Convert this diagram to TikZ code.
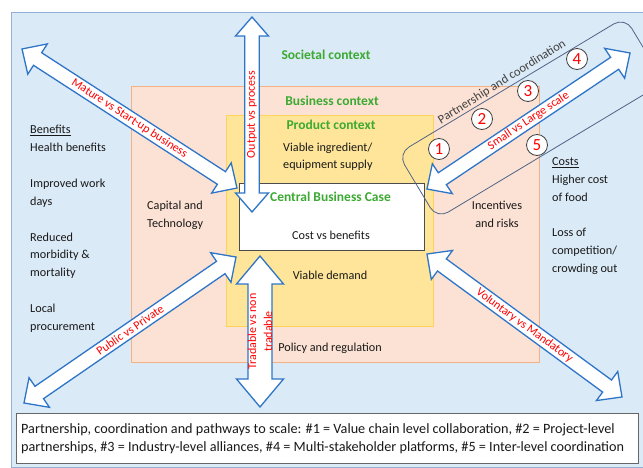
\documentclass[tikz,border=0pt]{standalone}
\usepackage{fontspec}
\setmainfont{Carlito}
\usetikzlibrary{calc}
\definecolor{bgblue}{RGB}{219,234,247}
\definecolor{bgborder}{RGB}{150,175,215}
\definecolor{peach}{RGB}{252,226,212}
\definecolor{peachborder}{RGB}{244,177,131}
\definecolor{yell}{RGB}{255,229,153}
\definecolor{yellborder}{RGB}{255,210,90}
\definecolor{arrblue}{RGB}{46,117,200}
\definecolor{ctxgreen}{RGB}{60,170,50}
\definecolor{rectcol}{RGB}{80,100,135}
\definecolor{txtcol}{RGB}{25,25,25}
\tikzset{
  txt/.style={font=\fontsize{12.2}{15}\selectfont, inner sep=0pt, text=txtcol, anchor=base},
  txtw/.style={txt, anchor=base west},
  ctx/.style={font=\fontsize{13.5}{16}\selectfont\bfseries, text=ctxgreen, inner sep=0pt, anchor=base},
  blockarr/.style={draw=arrblue, fill=white, line width=1.3pt, line join=miter},
  arrlabel/.style={font=\fontsize{12}{15}\selectfont, text=red, inner sep=0pt, transform shape},
  numcirc/.style={circle, draw=black!75, fill=white, minimum size=21pt, inner sep=0pt,
    font=\fontsize{17}{17}\selectfont, text=red, line width=0.8pt},
}
% #1 name, #2 centre, #3 angle, #4 half length, #5 shaft half width, #6 head half width, #7 head length, #8 label
\newcommand{\dblarr}[8]{%
  \begin{scope}[shift={#2}, rotate=#3]
    \draw[blockarr] (-#4,0) -- (-#4+#7,#6) -- (-#4+#7,#5) -- (#4-#7,#5) -- (#4-#7,#6) -- (#4,0)
      -- (#4-#7,-#6) -- (#4-#7,-#5) -- (-#4+#7,-#5) -- (-#4+#7,-#6) -- cycle;
    \node[arrlabel] (#1) at (0,0) {#8};
  \end{scope}}
\begin{document}
\begin{tikzpicture}[x=1pt,y=-1pt]
\useasboundingbox (0,0) rectangle (643,468);
\clip (0,0) rectangle (643,468);
\fill[white] (0,0) rectangle (643,468);
% context boxes
\draw[fill=bgblue, draw=bgborder, line width=0.8pt] (11,12) rectangle (660,467);
\draw[fill=peach, draw=peachborder, line width=0.8pt] (131,86) rectangle (539,362);
\draw[fill=yell, draw=yellborder, line width=0.8pt] (226,115) rectangle (433,326);
\draw[fill=white, draw=black!70, line width=0.9pt] (239,183) rectangle (424,250);
% context labels
\node[ctx] (soc) at (326,60) {Societal context};
\node[ctx] (bus) at (332,106) {Business context};
\node[ctx] (prod) at (331,130) {Product context};
\node[ctx] (cbc) at (330.5,201) {Central Business Case};
\node[txtw] (sup1) at (283,151.5) {Viable ingredient/};
\node[txtw] (sup2) at (283,168.5) {equipment supply};
\node[txt] (cvb) at (331,239.5) {Cost vs benefits};
\node[txt] (vd) at (330,279.5) {Viable demand};
\node[txt] (pr) at (330,351.5) {Policy and regulation};
\node[txtw] (cap1) at (147,209.5) {Capital and};
\node[txtw] (cap2) at (147,227.5) {Technology};
\node[txt] (inc1) at (497,209.5) {Incentives};
\node[txt] (inc2) at (497,227.5) {and risks};
% benefits
\node[txtw] (ben0) at (30,133.5) {\underline{Benefits}};
\node[txtw] (ben1) at (30,151.5) {Health benefits};
\node[txtw] (ben2) at (30,187.5) {Improved work};
\node[txtw] (ben3) at (30,205) {days};
\node[txtw] (ben4) at (30,241.5) {Reduced};
\node[txtw] (ben5) at (30,258.5) {morbidity \&};
\node[txtw] (ben6) at (30,276.5) {mortality};
\node[txtw] (ben7) at (30,312.5) {Local};
\node[txtw] (ben8) at (30,330.5) {procurement};
% costs
\node[txtw] (cost0) at (552,166) {\underline{Costs}};
\node[txtw] (cost1) at (552,184) {Higher cost};
\node[txtw] (cost2) at (552,201.5) {of food};
\node[txtw] (cost3) at (552,236.5) {Loss of};
\node[txtw] (cost4) at (552,254.5) {competition/};
\node[txtw] (cost5) at (552,272.5) {crowding out};
% partnership box
\node[draw=rectcol, line width=0.8pt, rounded corners=13pt, minimum width=265pt, minimum height=76pt,
  rotate=31, inner sep=0pt] (prect) at (531,118) {};
\node[font=\fontsize{12.5}{15}\selectfont, text=black!75, rotate=32, inner sep=0pt] (plab) at (502,82) {Partnership and coordination};
% arrows
\dblarr{mature}{(129.5,118.5)}{-32.9}{128}{7.5}{18}{18.5}{Mature vs Start-up business}
\dblarr{output}{(252,114.5)}{90}{97.5}{7.2}{16.5}{19}{Output vs process}
\dblarr{public}{(130,330)}{34.55}{128.7}{7.5}{18}{18.5}{Public vs Private}
\dblarr{trade}{(260,331.5)}{90}{75.5}{12}{23.5}{28}{}
\node[arrlabel, rotate=90, align=center, font=\fontsize{12}{16}\selectfont] (tradelab) at (260,331.5) {Tradable vs non\\tradable};
\dblarr{volunt}{(524.5,325.5)}{-36.25}{120.9}{7.5}{18}{18.5}{Voluntary vs Mandatory}
\dblarr{small}{(528.5,121)}{33.82}{122.2}{7.2}{18}{18.5}{Small vs Large scale}
% numbered circles
\node[numcirc] (n1) at (439,149) {1};
\node[numcirc] (n2) at (482,119) {2};
\node[numcirc] (n3) at (528,91) {3};
\node[numcirc] (n4) at (577,59) {4};
\node[numcirc] (n5) at (537,145) {5};
% caption
\node[draw=black!60, fill=white, line width=0.8pt, minimum width=622pt, minimum height=50pt, inner sep=0pt] (capbox) at (327,438) {};
\node[font=\fontsize{14.2}{17.5}\selectfont, text=txtcol, align=left, anchor=west, inner sep=0pt] (captxt) at (21,438.5)
  {Partnership, coordination and pathways to scale: \#1 = Value chain level collaboration, \#2 = Project-level\\
   partnerships, \#3 = Industry-level alliances, \#4 = Multi-stakeholder platforms, \#5 = Inter-level coordination};
\end{tikzpicture}
\end{document}
